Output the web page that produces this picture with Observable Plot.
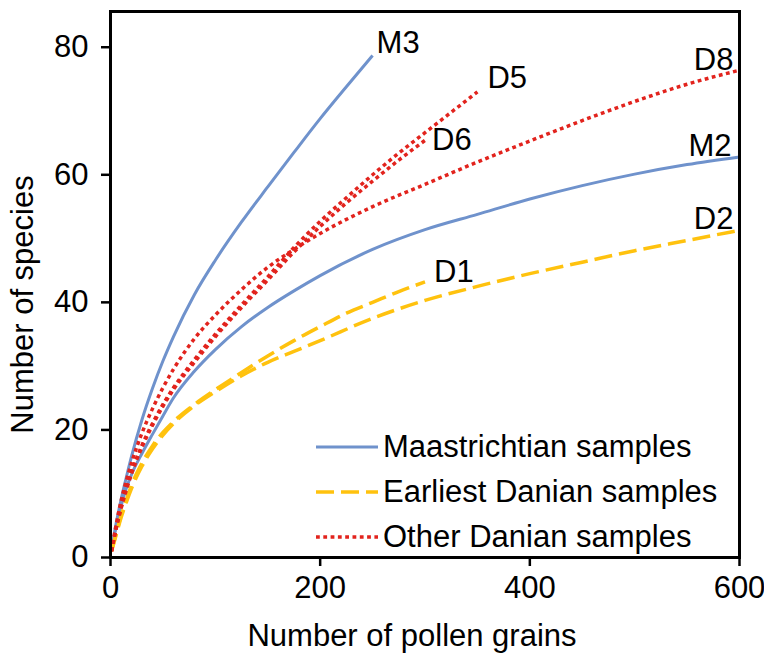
<!DOCTYPE html>
<html>
<head>
<meta charset="utf-8">
<script src="https://cdn.jsdelivr.net/npm/d3@7"></script>
<script src="https://cdn.jsdelivr.net/npm/@observablehq/plot@0.6"></script>
<style>
  body { margin: 0; background: #fff; }
  #wrap { position: relative; width: 764px; height: 660px; font-family: "Liberation Sans", Arial, sans-serif; }
  #legend { position: absolute; left: 316px; top: 424px; font-size: 31px; color: #000; line-height: 1.15; }
  #legend .row { display: flex; align-items: center; height: 45px; white-space: nowrap; }
  #legend svg { margin-right: 5px; flex: none; }
</style>
</head>
<body>
<div id="wrap"><div id="legend"></div></div>
<script>
// ---- data ----
const groups = ["Maastrichtian samples", "Earliest Danian samples", "Other Danian samples"];
const groupColors = ["#6F92CC", "#FFC20E", "#E2231D"];
const groupDash = [null, "18,7", "3.8,3.5"];
const groupWidth = [3, 3.5, 3.5];

const m3X = [1, 5, 10, 15, 20, 30, 40, 50, 60, 80, 100, 125, 150, 175, 200, 225, 250];
const m3Y = [1, 5, 9, 12.5, 15.8, 21.6, 26.5, 30.8, 34.6, 41.2, 46.6, 52.6, 58.1, 63.5, 68.8, 73.8, 78.7];

const m2X = [1, 5, 10, 15, 20, 30, 40, 50, 60, 80, 100, 125, 150, 175, 200, 250, 300, 350, 400, 450, 500, 550, 600];
const m2Y = [1, 4.5, 8, 10.8, 13, 16.3, 19.3, 22.2, 25, 29.2, 32.6, 36.2, 39.2, 41.8, 44.2, 48.3, 51.4, 53.8, 56.2, 58.3, 60.1, 61.6, 62.8];

const d1X = [1, 5, 10, 15, 20, 30, 40, 50, 60, 80, 100, 125, 150, 175, 200, 225, 250, 275, 300];
const d1Y = [1, 3.5, 6.5, 9, 11.3, 14.8, 17.5, 19.6, 21.3, 24, 26.3, 29, 31.6, 34, 36.2, 38.3, 40, 41.7, 43.2];

const d2X = [1, 5, 10, 15, 20, 30, 40, 50, 60, 80, 100, 125, 150, 175, 200, 250, 300, 350, 400, 450, 500, 550, 600];
const d2Y = [1, 3.3, 6.2, 8.6, 10.8, 14.3, 17, 19.2, 21, 23.8, 26, 28.5, 30.6, 32.3, 34, 37.5, 40.3, 42.5, 44.5, 46.3, 48.1, 49.7, 51.3];

const d5X = [1, 5, 10, 15, 20, 30, 40, 50, 60, 80, 100, 125, 150, 175, 200, 225, 250, 275, 300, 325, 350];
const d5Y = [1, 4.3, 7.8, 10.8, 13.4, 17.6, 21, 24, 26.6, 31, 35, 39.6, 44, 48.6, 52.7, 56.4, 60, 63.4, 66.6, 69.8, 73];

const d6X = [1, 5, 10, 15, 20, 30, 40, 50, 60, 80, 100, 125, 150, 175, 200, 225, 250, 275, 300];
const d6Y = [1, 4.2, 7.6, 10.5, 13.1, 17.3, 20.7, 23.7, 26.3, 30.6, 34.6, 39.2, 43.5, 47.9, 51.9, 55.6, 59, 62.3, 65.4];

const d8X = [1, 5, 10, 15, 20, 30, 40, 50, 60, 80, 100, 125, 150, 175, 200, 250, 300, 350, 400, 450, 500, 550, 600];
const d8Y = [1, 4.8, 8.8, 12, 14.8, 19.5, 23.3, 26.6, 29.5, 34.3, 38, 42, 45.5, 48.3, 50.8, 55, 58.5, 62, 65.3, 68.5, 71.5, 74.2, 76.4];

const curveNames = ["M3", "M2", "D1", "D2", "D5", "D6", "D8"];
const curveGroups = [0, 0, 1, 1, 2, 2, 2];
const curveXs = [m3X, m2X, d1X, d2X, d5X, d6X, d8X];
const curveYs = [m3Y, m2Y, d1Y, d2Y, d5Y, d6Y, d8Y];

const xTicks = [0, 200, 400, 600];
const yTicks = [0, 20, 40, 60, 80];
const xTitle = "Number of pollen grains";
const yTitle = "Number of species";

// label placement offsets (style only)
const labelStyle = {
  M3: {anchor: "start", dx: 4, dy: -12},
  M2: {anchor: "end", dx: -8, dy: -10.5},
  D1: {anchor: "start", dx: 9, dy: -9.5},
  D2: {anchor: "end", dx: -6, dy: -11},
  D5: {anchor: "start", dx: 10, dy: -13.5},
  D6: {anchor: "start", dx: 7, dy: 0},
  D8: {anchor: "end", dx: -6, dy: -10}
};

// ---- build tables ----
const rows = [];
curveNames.forEach((name, i) => {
  curveXs[i].forEach((x, j) => rows.push({name, group: curveGroups[i], x, y: curveYs[i][j]}));
});
const ends = curveNames.map((name, i) => ({
  name, x: curveXs[i][curveXs[i].length - 1], y: curveYs[i][curveYs[i].length - 1]
}));

const font = "'Liberation Sans', Arial, sans-serif";
const FS = 31;

const lineMarks = groups.map((g, gi) => Plot.line(rows.filter(r => r.group === gi), {
  x: "x", y: "y", z: "name", stroke: groupColors[gi], strokeWidth: groupWidth[gi],
  strokeDasharray: groupDash[gi] ?? undefined, strokeLinecap: "butt",
  curve: "monotone-x"
}));

const labelMarks = curveNames.map(n => {
  const s = labelStyle[n];
  return Plot.text(ends.filter(e => e.name === n), {
    x: "x", y: "y", text: "name", textAnchor: s.anchor, dx: s.dx, dy: s.dy,
    fontSize: FS, fill: "#000"
  });
});

const chart = Plot.plot({
  width: 764,
  height: 660,
  marginLeft: 110,
  marginRight: 25,
  marginTop: 11,
  marginBottom: 103,
  style: {fontFamily: font, background: "#fff", color: "#000", overflow: "visible"},
  x: {domain: [0, 600]},
  y: {domain: [0, 85.6]},
  marks: [
    ...lineMarks,
    ...labelMarks,
    Plot.axisY({ticks: yTicks, tickSize: 9, tickPadding: 13, strokeWidth: 2.5, fontSize: FS, label: null, tickFormat: d => String(d)}),
    Plot.axisX({ticks: xTicks, tickSize: 9, tickPadding: 9, strokeWidth: 2.5, fontSize: FS, label: null, tickFormat: d => String(d)}),
    Plot.text([xTitle], {frameAnchor: "bottom", textAnchor: "middle", lineAnchor: "top", dy: 66, dx: -13, fontSize: FS, fill: "#000"}),
    Plot.text([yTitle], {frameAnchor: "left", textAnchor: "middle", lineAnchor: "top", rotate: -90, dx: -100, dy: 20, fontSize: FS, fill: "#000"}),
    Plot.frame({stroke: "#000", strokeWidth: 3})
  ]
});
document.getElementById("wrap").prepend(chart);

// ---- legend overlay ----
const legend = document.getElementById("legend");
groups.forEach((g, gi) => {
  const row = document.createElement("div");
  row.className = "row";
  const dash = groupDash[gi] ? `stroke-dasharray="${groupDash[gi]}"` : "";
  row.innerHTML = `<svg width="62" height="6"><line x1="0" x2="62" y1="3" y2="3" stroke="${groupColors[gi]}" stroke-width="${groupWidth[gi]}" ${dash}/></svg><span>${g}</span>`;
  legend.appendChild(row);
});
</script>
</body>
</html>
